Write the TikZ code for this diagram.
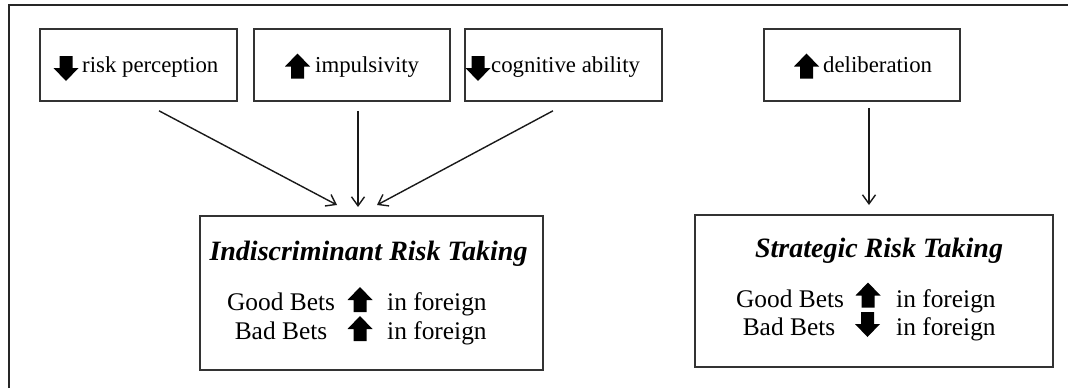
\documentclass[tikz,border=0pt]{standalone}
\usepackage{fontspec}
\setmainfont{Liberation Serif}
\usetikzlibrary{arrows.meta}
\begin{document}
\begin{tikzpicture}[x=1pt,y=-1pt,
  topbox/.style={draw=black!80,line width=1.6pt,minimum width=197pt,minimum height=72pt,inner sep=0pt},
  bigbox/.style={draw=black!80,line width=1.6pt,inner sep=0pt},
  toptext/.style={inner sep=0pt,anchor=base west,font=\fontsize{22.8}{26}\selectfont},
  bodytext/.style={inner sep=0pt,font=\fontsize{25.4}{29}\selectfont},
  titletext/.style={inner sep=0pt,anchor=base,font=\fontsize{28}{32}\selectfont\bfseries\itshape},
  conn/.style={line width=1.4pt,black!90,-{Straight Barb[length=9pt,width=13pt,line width=1.4pt]}},
  uparr/.pic={\fill[black] (-6.5,12.5) -- (-6.5,0.5) -- (-12.5,0.5) -- (0,-12.5) -- (12.5,0.5) -- (6.5,0.5) -- (6.5,12.5) -- cycle;},
  downarr/.pic={\fill[black] (-6.5,-12.5) -- (-6.5,-0.5) -- (-12.5,-0.5) -- (0,12.5) -- (12.5,-0.5) -- (6.5,-0.5) -- (6.5,-12.5) -- cycle;}
]
\useasboundingbox (0,0) rectangle (1070,388);
\draw[line width=1.2pt,black!85] (9,388) -- (9,5) -- (1068,5);

% top boxes
\node[topbox] (b1) at (138.5,65) {};
\node[toptext] (t1) at (82,72) {risk perception};
\pic at (66,68.5) {downarr};

\node[topbox,minimum width=196pt] (b2) at (352,65) {};
\node[toptext] (t2) at (315,72) {impulsivity};
\pic at (297.5,66) {uparr};

\node[topbox] (b3) at (563.5,65) {};
\node[toptext] (t3) at (491,72) {cognitive ability};
\pic at (478,68.5) {downarr};

\node[topbox,minimum width=196pt] (b4) at (862,65) {};
\node[toptext] (t4) at (823,72) {deliberation};
\pic at (806.5,66) {uparr};

% big boxes
\node[bigbox,minimum width=343pt,minimum height=154pt] (L) at (371.5,293) {};
\node[titletext] (Lt) at (368.5,260) {Indiscriminant Risk Taking};
\node[bodytext,anchor=base] (Lg) at (281,310) {Good Bets};
\node[bodytext,anchor=base] (Lb) at (281,339) {Bad Bets};
\node[bodytext,anchor=base west] (Lgf) at (387,310) {in foreign};
\node[bodytext,anchor=base west] (Lbf) at (387,339) {in foreign};
\pic at (360,299.5) {uparr};
\pic at (360,328.5) {uparr};

\node[bigbox,minimum width=358pt,minimum height=152pt] (R) at (874,291) {};
\node[titletext] (Rt) at (879,257) {Strategic Risk Taking};
\node[bodytext,anchor=base] (Rg) at (790,307) {Good Bets};
\node[bodytext,anchor=base] (Rb) at (789,335) {Bad Bets};
\node[bodytext,anchor=base west] (Rgf) at (896,307) {in foreign};
\node[bodytext,anchor=base west] (Rbf) at (896,335) {in foreign};
\pic at (868,295) {uparr};
\pic at (867.5,324.5) {downarr};

% connector ends
\coordinate (e1) at (337,205);
\coordinate (e2) at (358,207);
\coordinate (e3) at (377,205);
\coordinate (e4) at (869,205);

\draw[conn] ([xshift=20.5pt,yshift=-9pt]b1.south) -- (e1);
\draw[conn] ([xshift=6pt,yshift=-9pt]b2.south) -- (e2);
\draw[conn] ([xshift=-10.5pt,yshift=-9pt]b3.south) -- (e3);
\draw[conn] ([xshift=7pt,yshift=-6pt]b4.south) -- (e4);
\end{tikzpicture}
\end{document}
